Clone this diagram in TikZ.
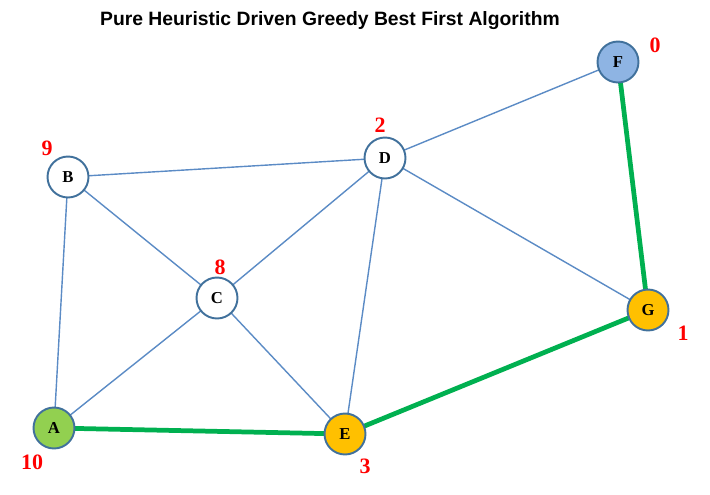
\documentclass[tikz,border=0pt]{standalone}
\usepackage{fontspec}
\setmainfont{Liberation Serif}
\newfontfamily\titlefont{Liberation Sans}
\definecolor{edgeblue}{HTML}{5B8BC5}
\definecolor{ringblue}{HTML}{41719C}
\definecolor{pathgreen}{HTML}{00B050}
\definecolor{fillF}{HTML}{8EB4E3}
\definecolor{fillA}{HTML}{92D050}
\definecolor{fillE}{HTML}{FFC000}
\tikzset{
  vertex/.style={circle,draw=ringblue,line width=1.1pt,fill=white,minimum size=0.82cm,inner sep=0pt,font=\fontsize{9.5}{9.5}\selectfont\bfseries},
  hval/.style={text=red,font=\fontsize{12.5}{12.5}\selectfont\bfseries},
  link/.style={draw=edgeblue,line width=0.8pt},
  route/.style={draw=pathgreen,line width=2.7pt}
}
\begin{document}
\begin{tikzpicture}[x=0.02cm,y=-0.02cm]
\useasboundingbox (0,0) rectangle (710,494);
\node[font=\titlefont\fontsize{11}{12}\selectfont\bfseries] (title) at (330,21) {Pure Heuristic Driven Greedy Best First Algorithm};
% edges first, nodes on top
\coordinate (pF) at (618,62);
\coordinate (pB) at (68,177);
\coordinate (pD) at (385,158);
\coordinate (pC) at (217,298);
\coordinate (pG) at (648,310);
\coordinate (pA) at (54,428);
\coordinate (pE) at (345,434);
\foreach \u/\v in {F/D,B/D,B/C,B/A,C/D,C/A,C/E,D/E,D/G} {
  \draw[link] (p\u) -- (p\v);
}
\foreach \u/\v in {F/G,G/E,E/A} {
  \draw[route] (p\u) -- (p\v);
}
\node[vertex,fill=fillF] (F) at (pF) {F};
\node[vertex] (B) at (pB) {B};
\node[vertex] (D) at (pD) {D};
\node[vertex] (C) at (pC) {C};
\node[vertex,fill=fillE] (G) at (pG) {G};
\node[vertex,fill=fillA] (A) at (pA) {A};
\node[vertex,fill=fillE] (E) at (pE) {E};
% heuristic values
\node[hval] (hF) at (655,45) {0};
\node[hval] (hB) at (47,148) {9};
\node[hval] (hD) at (380,125) {2};
\node[hval] (hC) at (220,267) {8};
\node[hval] (hG) at (683,333) {1};
\node[hval] (hA) at (32,462) {10};
\node[hval] (hE) at (365,466) {3};
\end{tikzpicture}
\end{document}
